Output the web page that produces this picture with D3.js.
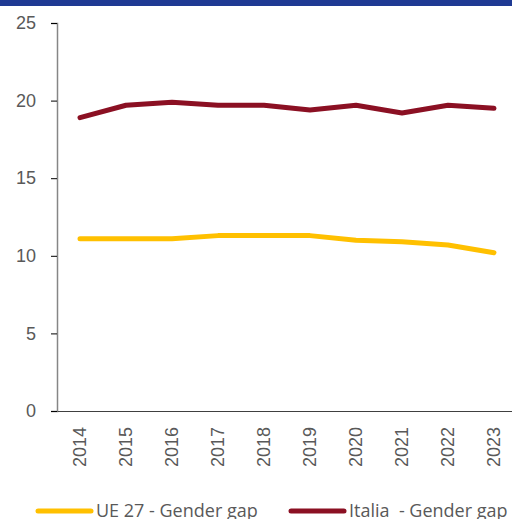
<!DOCTYPE html>
<html>
<head>
<meta charset="utf-8">
<script src="https://cdn.jsdelivr.net/npm/d3@7"></script>
<style>
  body { margin: 0; background: #fff; }
  svg { display: block; font-family: "Open Sans", "Liberation Sans", sans-serif; }
  text { white-space: pre; }
</style>
</head>
<body>
<svg id="chart" width="512" height="519"></svg>
<script>
var years = ['2014', '2015', '2016', '2017', '2018', '2019', '2020', '2021', '2022', '2023'];
var ueGap = [11.1, 11.1, 11.1, 11.3, 11.3, 11.3, 11.0, 10.9, 10.7, 10.2];
var italiaGap = [18.9, 19.7, 19.9, 19.7, 19.7, 19.4, 19.7, 19.2, 19.7, 19.5];
var yTicks = [0, 5, 10, 15, 20, 25];
var seriesNames = ['UE 27 - Gender gap', 'Italia  - Gender gap'];
var seriesColors = ['#FFC000', '#8B1023'];

var svg = d3.select('#chart');

// top band
svg.append('rect').attr('x', 0).attr('y', 0).attr('width', 512).attr('height', 6).attr('fill', '#1F3A93');

var x = d3.scaleBand().domain(years).range([57, 517]);
var y = d3.scaleLinear().domain([0, 25]).range([411, 23]);

var yAxis = svg.append('g')
    .attr('transform', 'translate(57,0)')
    .call(d3.axisLeft(y).tickValues(yTicks).tickSize(6).tickPadding(15));
yAxis.select('.domain').attr('stroke', '#868686').attr('stroke-width', 1.5);
yAxis.selectAll('.tick line').attr('stroke', '#000');
yAxis.selectAll('.tick text').attr('fill', '#595959').style('font-size', '18px');

var xAxis = svg.append('g')
    .attr('transform', 'translate(0,411)')
    .call(d3.axisBottom(x).tickSize(0).tickSizeOuter(0).tickPadding(0));
xAxis.select('.domain').attr('stroke', '#404040').attr('stroke-width', 1);
xAxis.selectAll('.tick text')
    .attr('fill', '#595959')
    .style('font-size', '18px')
    .attr('text-anchor', 'end')
    .attr('dy', null)
    .attr('dominant-baseline', 'central')
    .attr('transform', 'translate(0,16) rotate(-90)');

var line = d3.line()
    .x(function (d, i) { return x(years[i]) + x.bandwidth() / 2; })
    .y(function (d) { return y(d); });

[ueGap, italiaGap].forEach(function (s, i) {
    svg.append('path')
        .datum(s)
        .attr('d', line)
        .attr('fill', 'none')
        .attr('stroke', seriesColors[i])
        .attr('stroke-width', 5)
        .attr('stroke-linecap', 'round')
        .attr('stroke-linejoin', 'round');
});

// legend (cut by the bottom/right edge, like the original)
var legendX = [36, 289];
seriesNames.forEach(function (name, i) {
    var g = svg.append('g').attr('transform', 'translate(' + legendX[i] + ',511)');
    g.append('line').attr('x1', 2).attr('x2', 55).attr('y1', 0).attr('y2', 0)
        .attr('stroke', seriesColors[i]).attr('stroke-width', 5).attr('stroke-linecap', 'round');
    g.append('text').attr('x', 60).attr('y', 0).attr('dy', '0.35em')
        .attr('fill', '#595959').style('font-size', '18px').text(name);
});
</script>
</body>
</html>
